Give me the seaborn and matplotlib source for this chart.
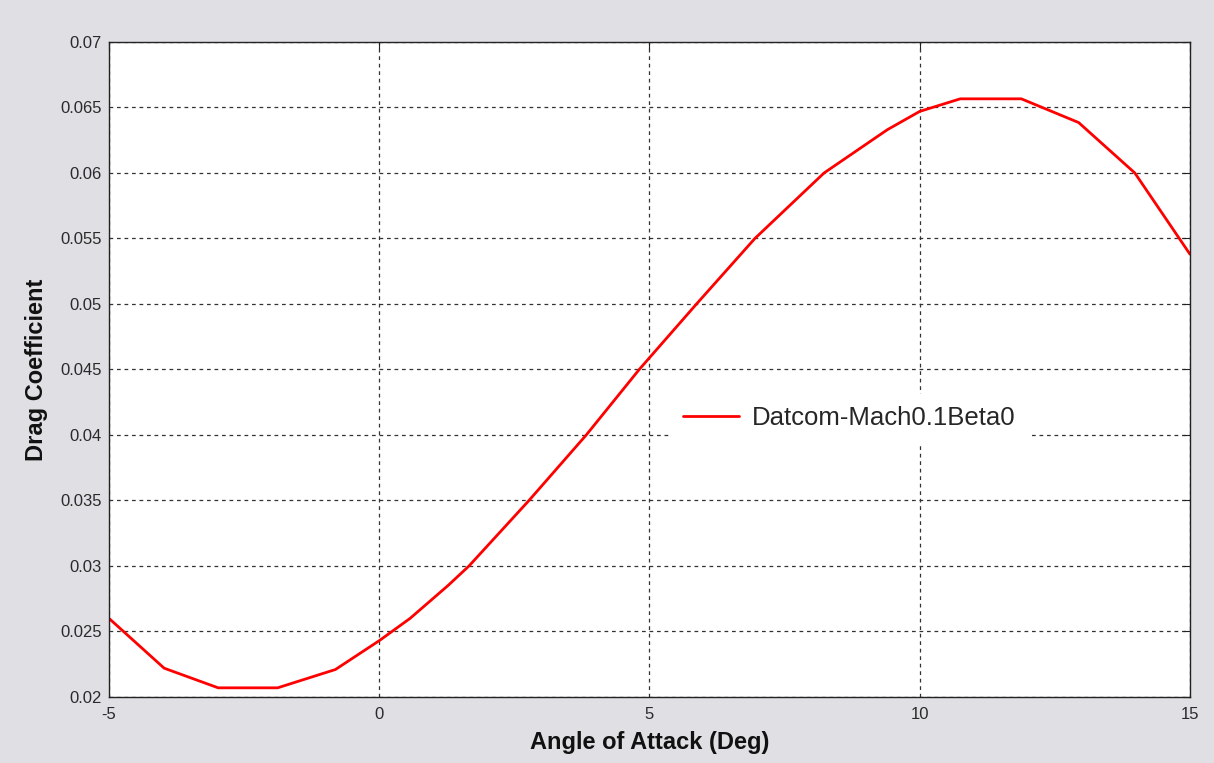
import matplotlib
matplotlib.use("Agg")
import matplotlib.pyplot as plt
import seaborn as sns
import pandas as pd

alpha_deg = [-5, -3.98, -2.98, -1.88, -0.81, 0, 0.57, 1.27, 1.66, 2.77, 3.83, 4.81,
             5.87, 6.95, 8.23, 9.4, 10.0, 10.75, 11.88, 12.94, 13.98, 15]
drag_coef = [0.0260, 0.0222, 0.0207, 0.0207, 0.0221, 0.0243, 0.0260, 0.0285, 0.0300,
             0.0350, 0.0400, 0.0450, 0.0500, 0.0550, 0.0600, 0.0633, 0.0647, 0.06566,
             0.06566, 0.06385, 0.0600, 0.0538]
series_name = "Datcom-Mach0.1Beta0"
x_ticks = [-5, 0, 5, 10, 15]
y_ticks = [0.02, 0.025, 0.03, 0.035, 0.04, 0.045, 0.05, 0.055, 0.06, 0.065, 0.07]
y_tick_labels = ["0.02", "0.025", "0.03", "0.035", "0.04", "0.045", "0.05", "0.055",
                 "0.06", "0.065", "0.07"]

df = pd.DataFrame({"alpha": alpha_deg, "cd": drag_coef, "series": series_name})

sns.set_theme(style="white")
plt.rcParams['font.family'] = ['Liberation Sans', 'DejaVu Sans']

fig = plt.figure(figsize=(12.14, 7.63), dpi=100, facecolor="#e0dfe3")
ax = fig.add_axes([0.0898, 0.0865, 0.8904, 0.8585])
ax.set_facecolor("white")

sns.lineplot(data=df, x="alpha", y="cd", hue="series", palette=["#ff0000"],
             linewidth=2, ax=ax, sort=False)

ax.set_xlim(-5, 15)
ax.set_ylim(0.02, 0.07)
ax.set_xticks(x_ticks)
ax.set_xticklabels([str(t) for t in x_ticks])
ax.set_yticks(y_ticks)
ax.set_yticklabels(y_tick_labels)

ax.grid(True, color="#333333", linestyle=(0, (3, 3)), linewidth=0.9)
ax.tick_params(axis="both", direction="in", length=5, width=0.8, color="#222222",
               labelsize=12, labelcolor="#2a2a2a", top=True, right=True)
ax.tick_params(axis="x", pad=7)
ax.tick_params(axis="y", pad=5)
for s in ax.spines.values():
    s.set_color("#222222")
    s.set_linewidth(1.0)
    s.set_visible(True)

ax.set_xlabel("Angle of Attack (Deg)", fontsize=17, fontweight="bold",
              color="#111111", labelpad=7)
ax.set_ylabel("Drag Coefficient", fontsize=17, fontweight="bold",
              color="#111111", labelpad=9)

leg = ax.legend(loc="center", bbox_to_anchor=(0.685, 0.426), fontsize=18.5,
                frameon=True, fancybox=False, handlelength=2.2, handletextpad=0.5,
                borderpad=0.45)
leg.get_frame().set_edgecolor("white")
leg.get_frame().set_facecolor("white")
leg.get_frame().set_alpha(1.0)

fig.savefig("out.png", dpi=100, facecolor=fig.get_facecolor())
